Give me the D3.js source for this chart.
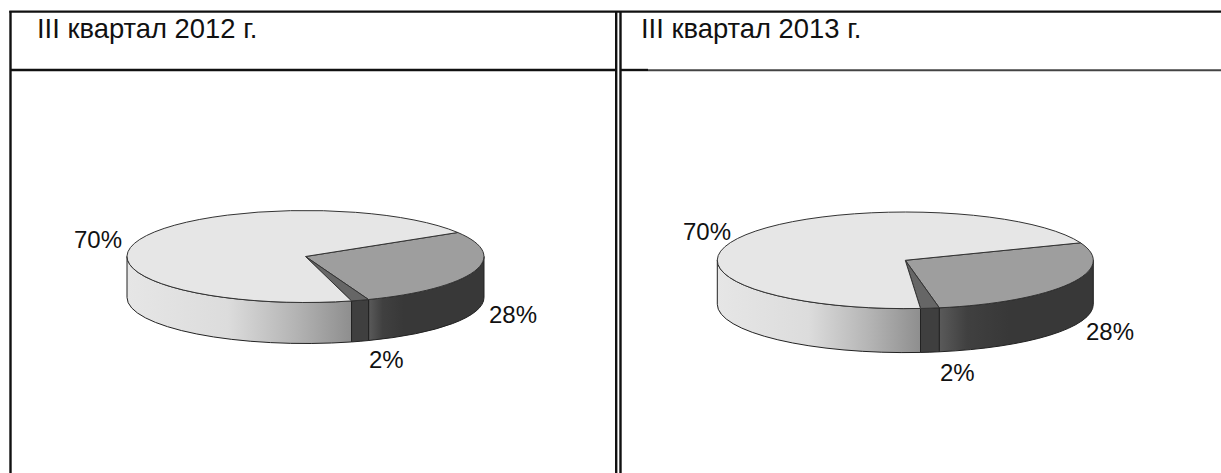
<!DOCTYPE html>
<html>
<head>
<meta charset="utf-8">
<script src="https://d3js.org/d3.v7.min.js"></script>
<style>
  html, body { margin: 0; padding: 0; background: #fff; }
  svg { display: block; }
  text { font-family: "Liberation Sans", Arial, sans-serif; fill: #111; }
</style>
</head>
<body>
<div id="chart"></div>
<script>
var titles = ["III квартал 2012 г.", "III квартал 2013 г."];
var sliceNames = ["28%", "2%", "70%"];
var values2012 = [28, 1.6, 70.4];
var values2013 = [28, 1.6, 70.4];

var svg = d3.select("#chart").append("svg")
  .attr("width", 1221)
  .attr("height", 473);

var defs = svg.append("defs");

function gradient(id, x1, x2, stops) {
  var g = defs.append("linearGradient")
    .attr("id", id)
    .attr("gradientUnits", "userSpaceOnUse")
    .attr("x1", x1).attr("x2", x2)
    .attr("y1", 0).attr("y2", 0);
  stops.forEach(function (s) {
    g.append("stop").attr("offset", s[0]).attr("stop-color", s[1]);
  });
  return "url(#" + id + ")";
}

// table frame
var frame = [
  [9.3, 11.6, 1221, 11.6, 2.4, "#111"],
  [10, 70, 616, 70, 2.4, "#111"],
  [620, 70, 648, 70, 2.4, "#111"],
  [648, 70.2, 1221, 70.2, 2, "#444"],
  [10.5, 11, 10.5, 473, 2.4, "#111"],
  [616.2, 11, 616.2, 473, 2.4, "#111"],
  [620.5, 11, 620.5, 473, 2.4, "#111"]
];
svg.selectAll("line.frame")
  .data(frame)
  .enter().append("line")
  .attr("class", "frame")
  .attr("x1", function (d) { return d[0]; })
  .attr("y1", function (d) { return d[1]; })
  .attr("x2", function (d) { return d[2]; })
  .attr("y2", function (d) { return d[3]; })
  .attr("stroke-width", function (d) { return d[4]; })
  .attr("stroke", function (d) { return d[5]; });

var topColors = ["#9e9e9e", "#666666", "#e6e6e6"];

function drawPie(opts) {
  var cx = opts.cx, cy = opts.cy, rx = opts.rx, ry = opts.ry, depth = opts.depth;

  var slices = d3.pie().sort(null)
    .startAngle(opts.start)
    .endAngle(opts.start + 2 * Math.PI)(opts.values);

  var px = function (t) { return rx * Math.sin(t); };
  var py = function (t) { return -ry * Math.cos(t); };

  var g = svg.append("g").attr("transform", "translate(" + cx + "," + cy + ")");

  // side wall of each slice, only the part facing the viewer
  var fills = [
    gradient(opts.id + "a", px(slices[0].endAngle), rx * 0.55,
      [[0, "#5a5a5a"], [0.4, "#404040"], [1, "#383838"]]),
    "#3f3f3f",
    gradient(opts.id + "c", -rx, px(slices[1].endAngle),
      [[0, "#e6e6e6"], [0.45, "#dcdcdc"], [0.75, "#b4b4b4"], [1, "#8e8e8e"]])
  ];

  function wall(d) {
    var a0 = Math.max(d.startAngle, Math.PI / 2);
    var a1 = Math.min(d.endAngle, 3 * Math.PI / 2);
    if (a1 <= a0) return null;
    return "M" + px(a0) + "," + py(a0) +
      "A" + rx + "," + ry + " 0 0 1 " + px(a1) + "," + py(a1) +
      "L" + px(a1) + "," + (py(a1) + depth) +
      "A" + rx + "," + ry + " 0 0 0 " + px(a0) + "," + (py(a0) + depth) + "Z";
  }

  g.selectAll("path.wall")
    .data(slices)
    .enter().append("path")
    .attr("class", "wall")
    .attr("d", wall)
    .attr("fill", function (d, i) { return fills[i]; })
    .attr("stroke", "#222")
    .attr("stroke-width", 1);

  // top face
  var unitArc = d3.arc().innerRadius(0).outerRadius(1);
  g.selectAll("path.top")
    .data(slices)
    .enter().append("path")
    .attr("class", "top")
    .attr("d", unitArc)
    .attr("transform", "scale(" + rx + "," + ry + ")")
    .attr("vector-effect", "non-scaling-stroke")
    .attr("fill", function (d, i) { return topColors[i]; })
    .attr("stroke", "#333")
    .attr("stroke-width", 1)
    .attr("stroke-linejoin", "round");

  svg.selectAll("text.pct" + opts.id)
    .data(sliceNames)
    .enter().append("text")
    .attr("class", "pct" + opts.id)
    .attr("x", function (d, i) { return opts.labels[i][0]; })
    .attr("y", function (d, i) { return opts.labels[i][1]; })
    .attr("font-size", 24)
    .text(function (d) { return d; });
}

var deg = Math.PI / 180;

drawPie({
  id: "p12", cx: 305.5, cy: 256.5, rx: 178.5, ry: 46, depth: 41,
  start: 58.5 * deg, values: values2012,
  labels: [[489, 323], [369, 368], [74, 248]]
});
drawPie({
  id: "p13", cx: 905.3, cy: 260.3, rx: 188, ry: 48.3, depth: 44,
  start: 68.8 * deg, values: values2013,
  labels: [[1086, 340], [940, 381], [683, 240]]
});

svg.selectAll("text.title")
  .data(titles)
  .enter().append("text")
  .attr("class", "title")
  .attr("x", function (d, i) { return [37, 641][i]; })
  .attr("y", 38)
  .attr("font-size", 27.4)
  .text(function (d) { return d; });
</script>
</body>
</html>
